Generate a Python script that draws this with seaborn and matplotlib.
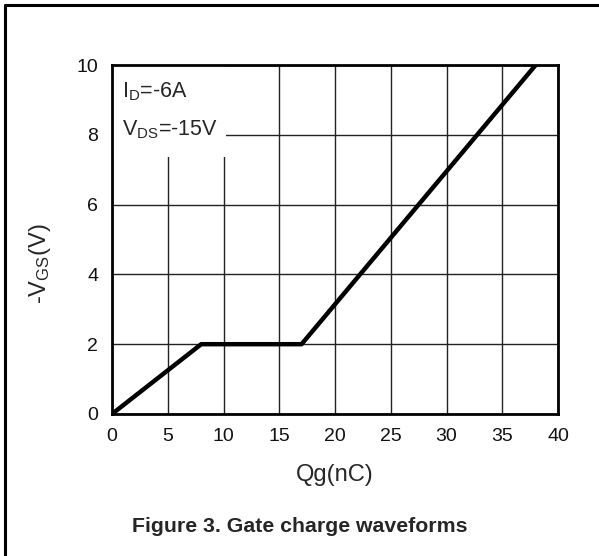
import matplotlib
matplotlib.use("Agg")
import matplotlib.pyplot as plt
from matplotlib.lines import Line2D
from matplotlib.patches import Rectangle
import seaborn as sns
import pandas as pd

# Data
qg_nc = [0, 8, 17, 38]
vgs = [0, 2, 2, 10]
x_ticks = [0, 5, 10, 15, 20, 25, 30, 35, 40]
y_ticks = [0, 2, 4, 6, 8, 10]
title = "Figure 3. Gate charge waveforms"

sns.set_style("white")
plt.rcParams['font.family'] = ['Liberation Sans', 'DejaVu Sans']
plt.rcParams['mathtext.fontset'] = 'custom'
plt.rcParams['mathtext.rm'] = 'Liberation Sans'
plt.rcParams['mathtext.it'] = 'Liberation Sans'

df = pd.DataFrame({"Qg": qg_nc, "VGS": vgs})

fig = plt.figure(figsize=(5.99, 5.56), dpi=100)
ax = fig.add_axes([112/599, 1-414/556, (558-112)/599, (414-65)/556])

ax.set_axisbelow(True)
ax.grid(True, color="#222222", linewidth=1.0)
sns.lineplot(data=df, x="Qg", y="VGS", ax=ax, color="black", linewidth=3.2,
             zorder=3)

ax.add_patch(Rectangle((0, 7.35), 10.25, 2.65, facecolor="white",
                       edgecolor="none", zorder=1))

ax.set_xlim(0, 40)
ax.set_ylim(0, 10)
ax.set_xticks(x_ticks)
ax.set_yticks(y_ticks)
ax.tick_params(axis="both", length=0, labelsize=14, colors="#111111")
ax.tick_params(axis="x", pad=10)
ax.tick_params(axis="y", pad=10)
for s in ax.spines.values():
    s.set_visible(True)
    s.set_color("black")
    s.set_linewidth(2.0)
    s.set_zorder(4)

ax.set_xlabel("Qg(nC)", fontsize=17, labelpad=14)
ax.set_ylabel(r"-V$_{\mathrm{GS}}$(V)", fontsize=17)
ax.yaxis.set_label_coords(-0.133, 0.43)

ax.text(0.9, 9.23, r"I$_{\mathrm{D}}$=-6A", fontsize=15.5, va="center",
        ha="left", zorder=5)
ax.text(0.9, 8.14, r"V$_{\mathrm{DS}}$=-15V", fontsize=15.5, va="center",
        ha="left", zorder=5)

fig.text(0.5, 1-527/556, title, ha="center", va="center", fontsize=15.3,
         fontweight="bold")

# outer frame (left and top lines)
fig.add_artist(Line2D([5/599, 5/599], [0, 1-4.5/556], color="black",
                      linewidth=2.2, transform=fig.transFigure))
fig.add_artist(Line2D([5/599, 1], [1-4.5/556, 1-4.5/556], color="black",
                      linewidth=2.2, transform=fig.transFigure))

fig.savefig("out.png", dpi=100)
